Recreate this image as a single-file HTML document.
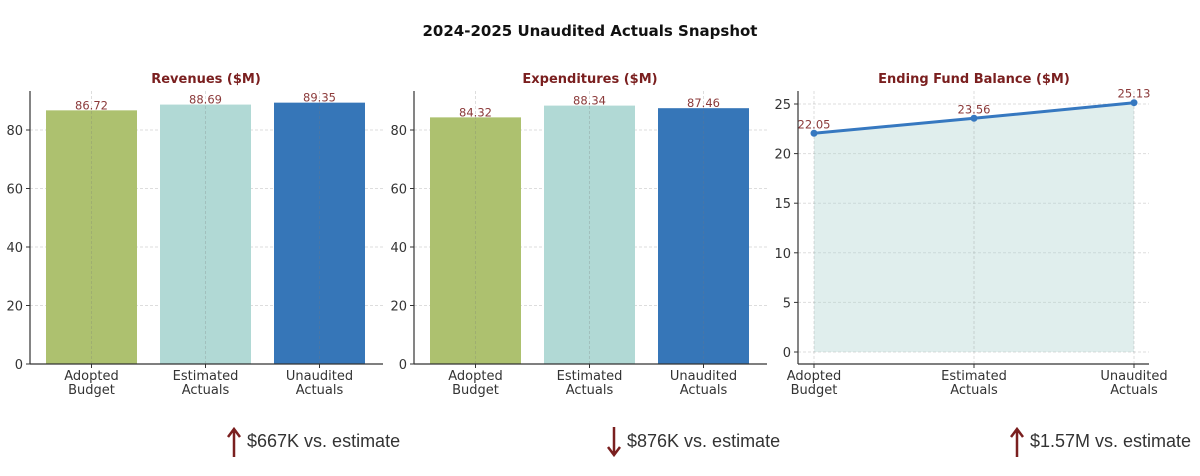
<!DOCTYPE html>
<html><head><meta charset="utf-8"><style>
body{margin:0;background:#fff;width:1200px;height:476px;overflow:hidden;font-family:"DejaVu Sans","Liberation Sans",sans-serif}
svg text{font-family:"DejaVu Sans","Liberation Sans",sans-serif}
.ann{position:absolute;font-family:"Liberation Sans",sans-serif;font-size:18px;color:#333;top:426px}
</style></head><body>
<svg id="c" width="1200" height="476" style="position:absolute;left:0;top:0">
<text x="590" y="36" text-anchor="middle" font-size="15" font-weight="bold" fill="#111">2024-2025 Unaudited Actuals Snapshot</text>
</svg>
<div class="ann" style="left:226px"><svg width="16" height="32" style="vertical-align:middle"><path d="M8 31V4M2 11L8 3L14 11" stroke="#7a1f1f" stroke-width="2.5" fill="none"/></svg> $667K vs. estimate</div>
<div class="ann" style="left:606px"><svg width="16" height="32" style="vertical-align:middle"><path d="M8 1V28M2 21L8 29L14 21" stroke="#7a1f1f" stroke-width="2.5" fill="none"/></svg> $876K vs. estimate</div>
<div class="ann" style="left:1009px"><svg width="16" height="32" style="vertical-align:middle"><path d="M8 31V4M2 11L8 3L14 11" stroke="#7a1f1f" stroke-width="2.5" fill="none"/></svg> $1.57M vs. estimate</div>
<script>
const categories=[["Adopted","Budget"],["Estimated","Actuals"],["Unaudited","Actuals"]];
const revenues=[86.72,88.69,89.35];
const expenditures=[84.32,88.34,87.46];
const fundBalance=[22.05,23.56,25.13];
const barTicks=[0,20,40,60,80];
const lineTicks=[0,5,10,15,20,25];
const colors=["#adc16f","#b1d9d5","#3676b8"];
const svg=document.getElementById('c');
const NS="http://www.w3.org/2000/svg";
function mk(t,a,p){const e=document.createElementNS(NS,t);for(const k in a)e.setAttribute(k,a[k]);(p||svg).appendChild(e);return e;}
function axesFrame(g,x0,x1,yTop,yBot,ticks,yf,title,tcx){
  ticks.forEach(v=>{const y=yf(v);
    mk('line',{x1:x0,x2:x1,y1:y,y2:y,stroke:'#ddd','stroke-dasharray':'3,2'},g);
    mk('line',{x1:x0-4,x2:x0,y1:y,y2:y,stroke:'#333'},g);
    const t=mk('text',{x:x0-7,y:y+5,'text-anchor':'end','font-size':13,fill:'#333'},g);t.textContent=v;
    
    
  });
  const tt=mk('text',{x:tcx,y:83,'text-anchor':'middle','font-size':13,'font-weight':'bold',fill:'#7a1f1f'},g);tt.textContent=title;
  
  
}
function axesLines(g,x0,x1,yTop,yBot){
  mk('line',{x1:x0,x2:x0,y1:yTop,y2:yBot,stroke:'#333','stroke-width':1.2},g);
  mk('line',{x1:x0,x2:x1,y1:yBot,y2:yBot,stroke:'#333','stroke-width':1.2},g);
}
function xLabels(g,xs,yBot){
  categories.forEach((c,i)=>{
    mk('line',{x1:xs(i),x2:xs(i),y1:yBot,y2:yBot+4,stroke:'#333'},g);
    const t=mk('text',{'text-anchor':'middle','font-size':13,fill:'#333'},g);
    
    
    c.forEach((l,j)=>{const s=mk('tspan',{x:xs(i),y:yBot+16+j*14},t);s.textContent=l;});
  });
}
function barPanel(off,vals,title,name){
  const g=mk('g',{});
  
  
  const x0=30+off,x1=383+off,yTop=91,yBot=364;
  const yf=v=>364-v*2.925, xs=i=>91.5+off+114*i, bw=91;
  axesFrame(g,x0,x1,yTop,yBot,barTicks,yf,title,206+off);
  vals.forEach((v,i)=>{
    const r=mk('rect',{x:xs(i)-bw/2,y:yf(v),width:bw,height:yBot-yf(v),fill:colors[i]},g);
    
    
    mk('line',{x1:xs(i),x2:xs(i),y1:yTop,y2:yBot,stroke:'rgba(120,120,120,0.25)','stroke-dasharray':'3,2'},g);
    const t=mk('text',{x:xs(i),y:yf(v)-1,'text-anchor':'middle','font-size':11.5,fill:'#8b3a3a'},g);t.textContent=v.toFixed(2);
    
    
  });
  axesLines(g,x0,x1,yTop,yBot);
  xLabels(g,xs,yBot);
}
barPanel(0,revenues,'Revenues ($M)','revenues-panel');
barPanel(384,expenditures,'Expenditures ($M)','expenditures-panel');
(function(){
  const g=mk('g',{});
  
  
  const x0=798,x1=1149,yTop=91,yBot=364;
  const yf=v=>352-v*9.92, xs=i=>814+160*i;
  axesFrame(g,x0,x1,yTop,yBot,lineTicks,yf,'Ending Fund Balance ($M)',974);
  let pts=fundBalance.map((v,i)=>xs(i)+','+yf(v));
  const a=mk('polygon',{points:xs(0)+','+yf(0)+' '+pts.join(' ')+' '+xs(2)+','+yf(0),fill:'#b1d4d2','fill-opacity':0.4},g);
  
  
  categories.forEach((c,i)=>mk('line',{x1:xs(i),x2:xs(i),y1:yTop,y2:yBot,stroke:'rgba(120,120,120,0.25)','stroke-dasharray':'3,2'},g));
  const l=mk('polyline',{points:pts.join(' '),fill:'none',stroke:'#3678c0','stroke-width':3},g);
  
  
  fundBalance.forEach((v,i)=>{
    const c=mk('circle',{cx:xs(i),cy:yf(v),r:3.5,fill:'#3678c0'},g);
    
    
    const t=mk('text',{x:xs(i),y:yf(v)-5,'text-anchor':'middle','font-size':11.5,fill:'#8b3a3a'},g);t.textContent=v.toFixed(2);
    
    
  });
  axesLines(g,x0,x1,yTop,yBot);
  xLabels(g,xs,yBot);
})();
</script>
</body></html>
